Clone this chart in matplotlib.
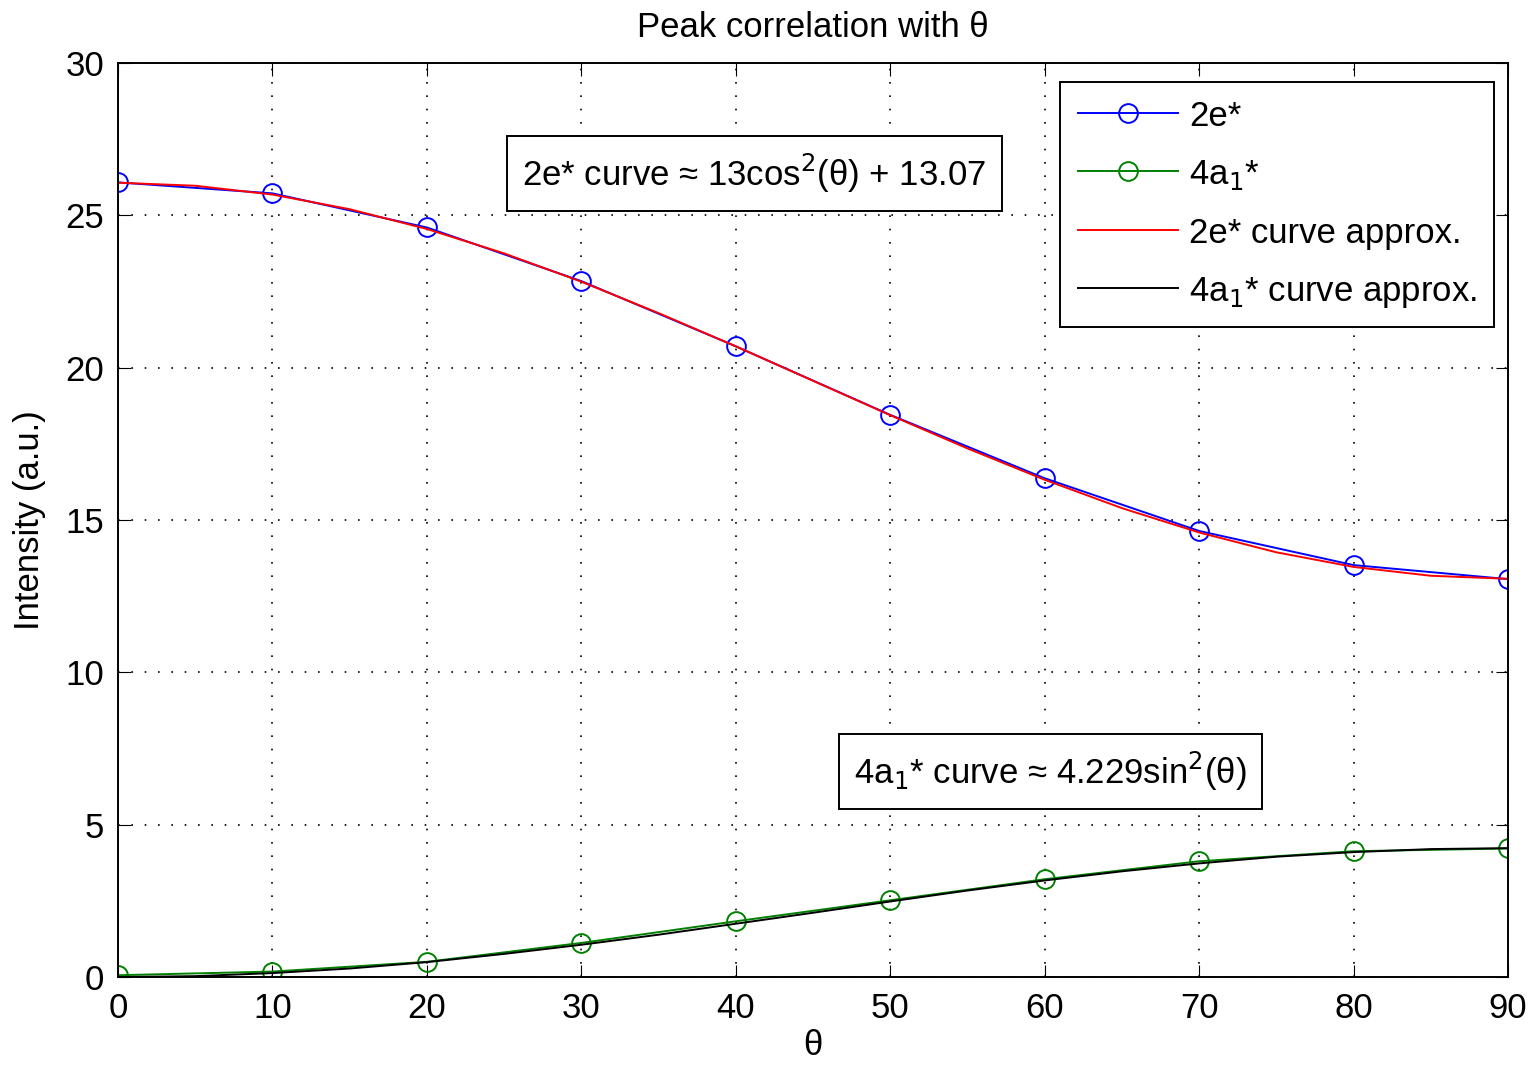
import numpy as np
import matplotlib.pyplot as plt

# measured points
theta = [0, 10, 20, 30, 40, 50, 60, 70, 80, 90]
e2 = [26.08, 25.72, 24.6, 22.84, 20.7, 18.45, 16.37, 14.64, 13.52, 13.06]
a4 = [0.06, 0.18, 0.5, 1.12, 1.83, 2.52, 3.21, 3.8, 4.13, 4.22]

# approximation curves, every 5 degrees
theta_fit = [0, 5, 10, 15, 20, 25, 30, 35, 40, 45, 50, 55, 60, 65, 70, 75, 80, 85, 90]
e2_fit = [26.07, 25.97, 25.68, 25.2, 24.55, 23.75, 22.82, 21.79, 20.7, 19.57,
          18.44, 17.35, 16.32, 15.39, 14.59, 13.94, 13.46, 13.17, 13.07]
a4_fit = [0.0, 0.03, 0.13, 0.28, 0.49, 0.76, 1.06, 1.39, 1.75, 2.11,
          2.48, 2.84, 3.17, 3.47, 3.73, 3.95, 4.1, 4.2, 4.23]

xticks = [0, 10, 20, 30, 40, 50, 60, 70, 80, 90]
yticks = [0, 5, 10, 15, 20, 25, 30]


def main():
    plt.rcParams['font.family'] = ['Liberation Sans', 'DejaVu Sans']
    fs = 25
    fig = plt.figure(figsize=(15.33, 10.67), dpi=100)
    ax = fig.add_axes([0.077, 0.0843, 0.9067, 0.8567])

    ax.plot(theta, e2, '-o', color='blue', lw=1.4, markersize=13.5,
            markerfacecolor='none', markeredgewidth=1.4, label='2e*')
    ax.plot(theta, a4, '-o', color='green', lw=1.4, markersize=13.5,
            markerfacecolor='none', markeredgewidth=1.4, label='4a$_1$*')
    ax.plot(theta_fit, e2_fit, '-', color='red', lw=1.4, label='2e* curve approx.')
    ax.plot(theta_fit, a4_fit, '-', color='black', lw=1.4, label='4a$_1$* curve approx.')

    ax.set_xlim(0, 90)
    ax.set_ylim(0, 30)
    ax.set_xticks(xticks)
    ax.set_yticks(yticks)
    ax.tick_params(direction='in', length=9, labelsize=fs, top=True, right=True)
    ax.tick_params(axis='x', pad=11)
    ax.tick_params(axis='y', pad=10)
    ax.grid(True, color='black', linestyle=(0, (1, 7)), linewidth=1.2)
    for s in ax.spines.values():
        s.set_linewidth(1.4)

    ax.set_xlabel('θ', fontsize=fs, labelpad=3)
    ax.set_ylabel('Intensity (a.u.)', fontsize=fs, labelpad=14)
    ax.set_title('Peak correlation with θ', fontsize=fs, pad=19)

    box = dict(boxstyle='square,pad=0.45', facecolor='white', edgecolor='black', linewidth=1.4)
    ax.text(0.2908, 0.879, r'2e* curve ≈ 13cos$^2$(θ) + 13.07', transform=ax.transAxes,
            fontsize=fs, va='center', ha='left', bbox=box)
    ax.text(0.5296, 0.2248, r'4a$_1$* curve ≈ 4.229sin$^2$(θ)', transform=ax.transAxes,
            fontsize=fs, va='center', ha='left', bbox=box)

    leg = ax.legend(loc='upper right', bbox_to_anchor=(0.99, 0.979), borderaxespad=0,
                    fontsize=fs, fancybox=False, framealpha=1, edgecolor='black',
                    handlelength=2.9, borderpad=0.5, labelspacing=0.72, handletextpad=0.3)
    leg.get_frame().set_linewidth(1.4)

    fig.savefig('out.png', dpi=100)


if __name__ == "__main__":
    main()
